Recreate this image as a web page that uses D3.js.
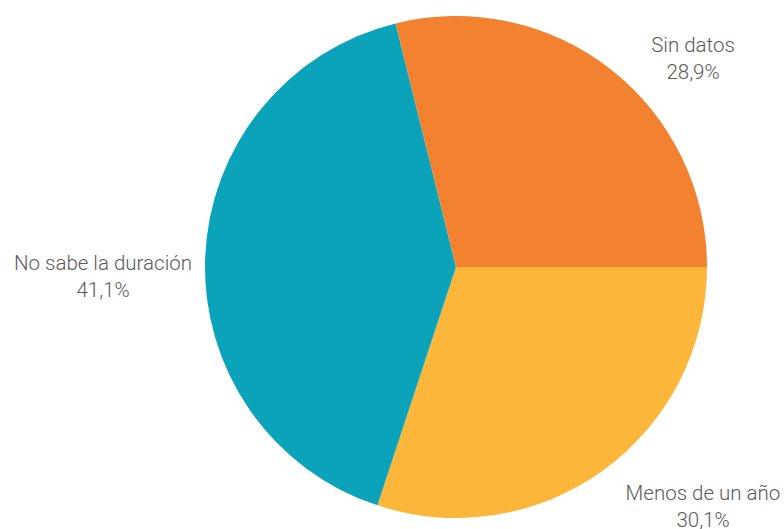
<!DOCTYPE html>
<html>
  <head>
    <meta charset="utf-8">
    <script src="https://cdn.jsdelivr.net/npm/d3@7"></script>
    <style type="text/css">
    body { margin: 0; background: #fff; }
    .label text {
      fill: #5a5a5a;
      font-family: Roboto, sans-serif;
      font-weight: 300;
      font-size: 20.5px;
    }
    </style>
  </head>
  <body>
    <script type="text/javascript">
      // data
      var categories = ["Menos de un año", "No sabe la duración", "Sin datos"];
      var values = [30.1, 41.1, 28.9];
      var valueLabels = ["30,1%", "41,1%", "28,9%"];
      var colors = ["#FCB73A", "#0AA3BA", "#F38230"];

      var w = 784, h = 529;
      var cx = 456, cy = 267, r = 251;

      var svg = d3.select("body").append("svg")
                  .attr("width", w)
                  .attr("height", h);

      var data = categories.map(function(c, i) {
        return { name: c, value: values[i], label: valueLabels[i], color: colors[i] };
      });

      // pie starts at 3 o'clock, goes clockwise
      var pie = d3.pie()
                  .sort(null)
                  .value(function(d) { return d.value; })
                  .startAngle(Math.PI / 2)
                  .endAngle(Math.PI / 2 + 2 * Math.PI);

      var arc = d3.arc().innerRadius(0).outerRadius(r);

      var g = svg.append("g")
                 .attr("transform", "translate(" + cx + "," + cy + ")");

      g.selectAll("path")
       .data(pie(data))
       .enter()
       .append("path")
         .attr("d", arc)
         .attr("fill", function(d) { return d.data.color; });

      // label placement (offsets of first baseline from pie centre)
      var labelPos = {
        "Menos de un año": [247, 233],
        "No sabe la duración": [-353, 3],
        "Sin datos": [237, -215]
      };

      var labels = svg.append("g").attr("class", "label");
      data.forEach(function(d) {
        var p = labelPos[d.name];
        var t = labels.append("text")
                      .attr("text-anchor", "middle")
                      .attr("x", cx + p[0])
                      .attr("y", cy + p[1]);
        t.append("tspan").attr("x", cx + p[0]).text(d.name);
        t.append("tspan").attr("x", cx + p[0]).attr("dy", 27).text(d.label);
      });
    </script>
  </body>
</html>
